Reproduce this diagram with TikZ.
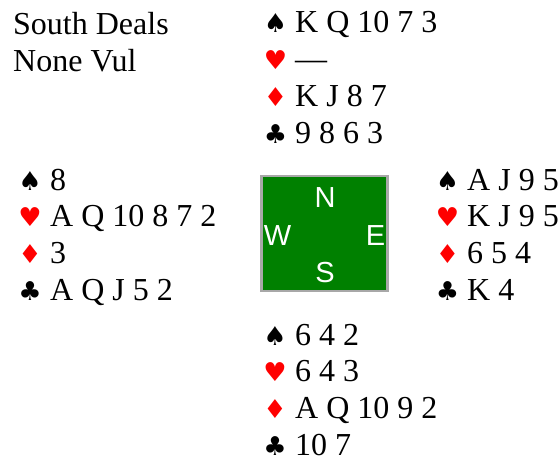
\documentclass[tikz,border=0pt]{standalone}
\usepackage{fontspec}
\setmainfont{Liberation Serif}
\newfontfamily\suitf{DejaVu Sans}
\newfontfamily\dirf{Liberation Sans}
\definecolor{boardgreen}{HTML}{008000}
\definecolor{boardedge}{HTML}{A8A8A8}
\definecolor{suitred}{HTML}{FF0000}
\newcommand\handat[8]{%
  \node[suit] (#1sp) at (#2,#4) {♠};
  \node[cards] (#1spt) at (#3,#4) {#5};
  \node[suit,text=suitred] (#1he) at (#2,#4+36.7) {♥};
  \node[cards] (#1het) at (#3,#4+36.7) {#6};
  \node[suit,text=suitred] (#1di) at (#2,#4+73.4) {♦};
  \node[cards] (#1dit) at (#3,#4+73.4) {#7};
  \node[suit] (#1cl) at (#2,#4+110.1) {♣};
  \node[cards] (#1clt) at (#3,#4+110.1) {#8};
}
\begin{document}
\begin{tikzpicture}[x=1pt,y=-1pt,
  cards/.style={anchor=base west,inner sep=0pt,font=\fontsize{32}{37}\selectfont},
  suit/.style={anchor=base,inner sep=0pt,font=\suitf\fontsize{26}{30}\selectfont},
  dir/.style={anchor=base,inner sep=0pt,text=white,font=\dirf\fontsize{29}{32}\selectfont},
  boardbox/.style={draw=boardedge,line width=2.5pt,fill=boardgreen,minimum width=126pt,minimum height=115pt,inner sep=0pt}]
\useasboundingbox (0,0) rectangle (560,460);
\node[cards] (deal) at (13,35) {South Deals};
\node[cards] (vul) at (13,72) {None Vul};
\handat{n}{275.5}{295}{33}{K Q 10 7 3}{—}{K J 8 7}{9 8 6 3}
\handat{w}{30}{50}{190}{8}{A Q 10 8 7 2}{3}{A Q J 5 2}
\handat{e}{447.5}{467}{190}{A J 9 5}{K J 9 5}{6 5 4}{K 4}
\handat{s}{275}{295}{345}{6 4 2}{6 4 3}{A Q 10 9 2}{10 7}
\node[boardbox] (board) at (324.5,233.5) {};
\node[dir] (dn) at (325,207) {N};
\node[dir] (dw) at (277.5,245) {W};
\node[dir] (de) at (375.5,245) {E};
\node[dir] (ds) at (325,282) {S};
\end{tikzpicture}
\end{document}
